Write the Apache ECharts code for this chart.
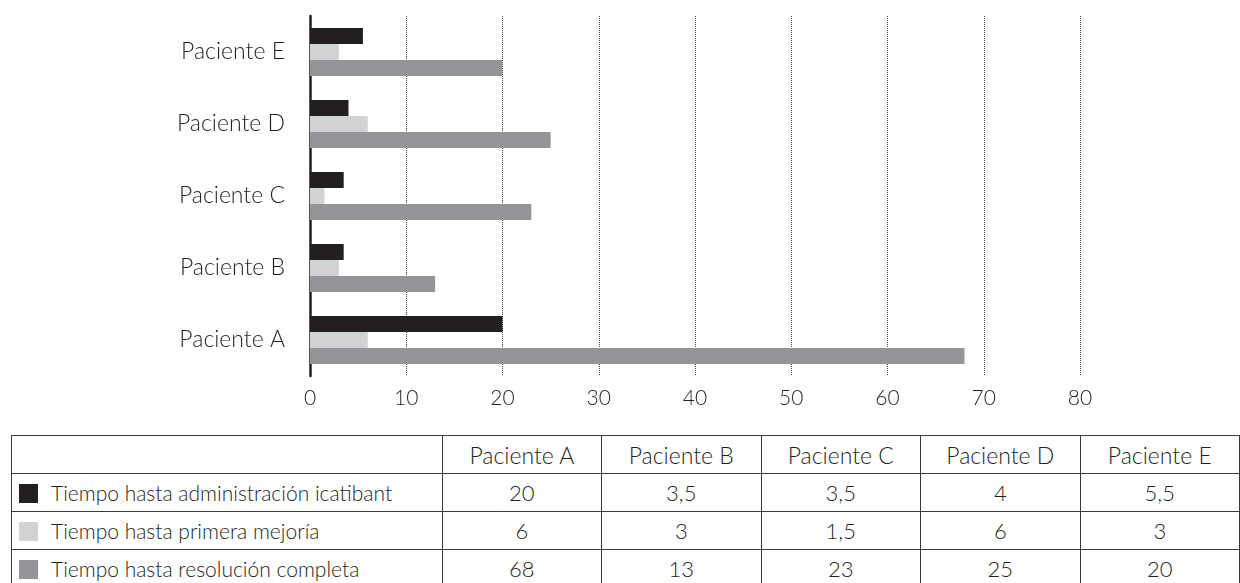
<!DOCTYPE html>
<html>
<head>
<meta charset="utf-8">
<script src="https://cdn.jsdelivr.net/npm/echarts@6/dist/echarts.min.js"></script>
<style>
  body { margin: 0; background: #fff; font-family: Lato, sans-serif; }
  #chart { position: absolute; left: 0; top: 0; width: 1240px; height: 430px; }
  #tabla { position: absolute; left: 11px; top: 435px; border-collapse: collapse; font-size: 22px; font-weight: 300; color: #231f20; }
  #tabla td { border: 1px solid #3a3a3a; padding: 0; height: 37px; text-align: center; white-space: nowrap; }
  #tabla tr.cab td { font-size: 23px; }
  #tabla td.serie { text-align: left; width: 432px; font-size: 21px; }
  #tabla td.col { width: 161px; }
  .cuadro { display: inline-block; width: 19px; height: 19px; margin: 0 13px 0 7px; vertical-align: -2px; }
</style>
</head>
<body>
<div id="chart"></div>
<table id="tabla"></table>
<script>
var pacientes = ['Paciente A', 'Paciente B', 'Paciente C', 'Paciente D', 'Paciente E'];
var nombres = ['Tiempo hasta administración icatibant', 'Tiempo hasta primera mejoría', 'Tiempo hasta resolución completa'];
var colores = ['#231f20', '#d1d2d4', '#939598'];
var administracion = [20, 3.5, 3.5, 4, 5.5];
var mejoria = [6, 3, 1.5, 6, 3];
var resolucion = [68, 13, 23, 25, 20];
var xTicks = [0, 10, 20, 30, 40, 50, 60, 70, 80];

var valores = [administracion, mejoria, resolucion];

var chart = echarts.init(document.getElementById('chart'));

var series = [];
$each = function (arr, fn) { for (var i = 0; i < arr.length; i++) fn(i, arr[i]); };
$each(valores, function (i, datos) {
    series.push({
        type: 'bar',
        name: nombres[i],
        data: datos,
        barWidth: 16,
        barGap: '0%',
        itemStyle: { color: colores[i] },
        animation: false
    });
});

var option = {
    animation: false,
    grid: { left: 310, right: 160, top: 16, height: 360 },
    xAxis: {
        type: 'value',
        min: xTicks[0],
        max: xTicks[xTicks.length - 1],
        interval: 10,
        axisLine: { show: false },
        axisTick: { show: false },
        splitLine: { lineStyle: { type: 'dotted', color: '#444', width: 1 } },
        axisLabel: { fontFamily: 'Lato', fontWeight: 300, fontSize: 21, color: '#231f20', margin: 12 }
    },
    yAxis: {
        type: 'category',
        data: pacientes,
        axisLine: { lineStyle: { color: '#231f20', width: 2.5 } },
        axisTick: { show: false },
        axisLabel: { fontFamily: 'Lato', fontWeight: 300, fontSize: 23, color: '#231f20', margin: 25 }
    },
    series: series
};

chart.setOption(option);

// tabla de datos
var tabla = document.getElementById('tabla');
var html = '<tr class="cab"><td class="serie"></td>';
$each(pacientes, function (i, p) { html += '<td class="col">' + p + '</td>'; });
html += '</tr>';
$each(valores, function (i, datos) {
    html += '<tr><td class="serie"><span class="cuadro" style="background:' + colores[i] + '"></span>' + nombres[i] + '</td>';
    $each(datos, function (j, v) { html += '<td class="col">' + String(v).replace('.', ',') + '</td>'; });
    html += '</tr>';
});
tabla.innerHTML = html;
</script>
</body>
</html>
